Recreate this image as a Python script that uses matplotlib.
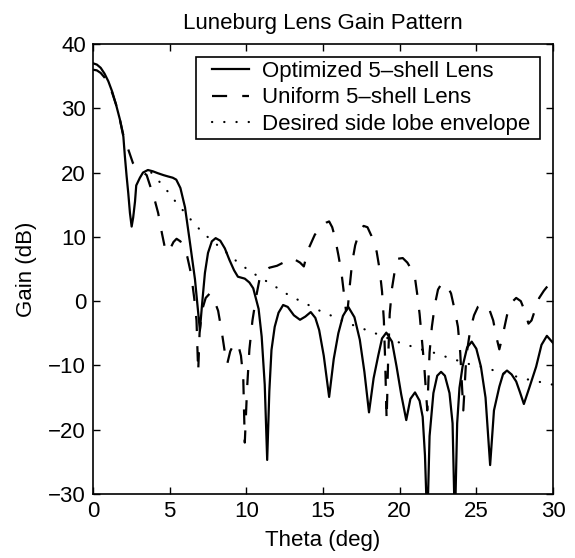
import matplotlib
matplotlib.use("Agg")
import matplotlib.pyplot as plt
from matplotlib.legend_handler import HandlerLine2D

plt.rcParams['font.family'] = ['Liberation Sans', 'DejaVu Sans']

# Optimized 5-shell lens
opt_theta = [0.0, 0.25, 0.5, 0.75, 1.0, 1.25, 1.5, 1.75, 1.98, 2.08, 2.19, 2.3, 2.41, 2.52,
             2.62, 2.74, 2.82, 3.06, 3.26, 3.58, 3.9, 4.23, 4.6, 4.89, 5.2, 5.43, 5.7, 6.0,
             6.3, 6.65, 6.97, 7.15, 7.3, 7.5, 7.75, 8.0, 8.3, 8.6, 8.9, 9.2, 9.45, 9.9,
             10.2, 10.45, 10.8, 11.0, 11.2, 11.36, 11.5, 11.64, 11.85, 12.1, 12.4, 12.7,
             13.1, 13.5, 13.85, 14.2, 14.5, 14.75, 15.05, 15.4, 15.7, 16.0, 16.3, 16.65,
             17.05, 17.4, 17.7, 18.0, 18.3, 18.6, 18.85, 19.13, 19.5, 19.8, 20.1, 20.43,
             20.7, 21.0, 21.3, 21.5, 21.65, 21.8, 21.95, 22.2, 22.45, 22.7, 22.95, 23.25,
             23.45, 23.6, 23.75, 23.9, 24.1, 24.4, 24.7, 25.0, 25.3, 25.6, 25.9, 26.15,
             26.5, 26.75, 27.0, 27.3, 27.6, 27.85, 28.1, 28.45, 28.9, 29.25, 29.6, 30.0]
opt_gain = [37.0, 36.8, 36.3, 35.4, 34.2, 32.6, 30.6, 28.3, 25.6, 22.5, 19.5, 16.8, 13.7, 11.6,
            13.0, 15.5, 18.0, 19.2, 20.0, 20.4, 20.2, 19.9, 19.6, 19.4, 19.2, 18.9, 17.6, 14.6,
            9.5, 3.4, -4.5, 0.5, 4.4, 7.5, 9.3, 9.8, 9.4, 8.2, 6.4, 4.8, 3.8, 3.5,
            2.9, 2.0, -1.2, -5.5, -13.0, -24.7, -14.0, -7.6, -4.0, -1.8, -0.6, -0.9,
            -2.2, -2.9, -2.4, -1.7, -2.6, -4.5, -8.5, -14.9, -9.0, -5.0, -2.3, -0.9,
            -2.5, -6.0, -11.0, -17.3, -12.0, -8.5, -5.8, -4.9, -6.3, -10.2, -14.5, -18.5,
            -15.2, -14.2, -15.5, -18.0, -24.0, -35.0, -21.0, -14.3, -11.6, -11.0, -11.6, -14.3,
            -19.0, -35.0, -19.0, -13.5, -10.2, -7.2, -6.3, -7.4, -10.2, -15.0, -25.5, -17.0,
            -13.3, -11.3, -10.8, -11.4, -12.5, -14.2, -16.0, -13.5, -10.2, -6.8, -5.4, -6.5]

# Uniform 5-shell lens
uni_theta = [0.0, 0.25, 0.5, 0.75, 1.0, 1.25, 1.5, 1.75, 2.0, 2.3, 2.6, 2.9, 3.2, 3.5,
             3.8, 4.05, 4.25, 4.5, 4.75, 5.0, 5.25, 5.45, 5.7, 5.95, 6.15, 6.4, 6.6, 6.75,
             6.86, 6.95, 7.1, 7.35, 7.62, 7.9, 8.16, 8.4, 8.6, 8.75, 8.95, 9.2, 9.45, 9.65,
             9.8, 9.9, 10.05, 10.2, 10.4, 10.65, 10.85, 11.2, 11.5, 12.0, 12.5, 13.0, 13.5,
             13.75, 14.03, 14.46, 14.85, 15.2, 15.4, 15.6, 15.77, 16.0, 16.2, 16.35, 16.5,
             16.62, 16.75, 16.9, 17.1, 17.4, 17.65, 17.9, 18.15, 18.5, 18.7, 18.85, 18.97,
             19.05, 19.15, 19.25, 19.35, 19.5, 19.7, 19.9, 20.2, 20.5, 20.8, 21.0, 21.15,
             21.3, 21.45, 21.6, 21.8, 21.95, 22.1, 22.3, 22.5, 22.75, 23.05, 23.35, 23.6,
             23.8, 23.95, 24.15, 24.35, 24.6, 24.85, 25.1, 25.5, 25.85, 26.1, 26.3, 26.5,
             26.75, 27.0, 27.3, 27.6, 27.9, 28.15, 28.4, 28.6, 28.85, 29.1, 29.4, 29.7, 30.0]
uni_gain = [36.0, 35.9, 35.5, 34.8, 33.8, 32.4, 30.6, 28.3, 25.6, 23.6, 21.5, 20.6, 20.2, 19.6,
            17.4, 15.5, 13.7, 10.5, 7.6, 8.0, 9.2, 9.7, 9.3, 8.2, 6.9, 4.2, 0.5, -3.0,
            -11.0, -5.0, -1.5, 0.5, 1.2, 0.2, -1.5, -4.8, -8.0, -9.8, -7.8, -6.6, -6.6, -8.5,
            -12.0, -22.0, -13.5, -7.5, -3.0, 0.8, 3.3, 4.6, 5.2, 5.5, 6.1, 6.7, 6.0,
            5.4, 8.0, 10.3, 11.6, 12.2, 12.4, 11.5, 10.0, 7.2, 4.5, 1.5, -1.5,
            -1.0, 2.5, 6.0, 8.7, 11.0, 11.7, 11.5, 10.2, 7.7, 4.8, 1.5, -3.0,
            -9.0, -18.5, -9.0, -2.0, 2.0, 5.0, 6.6, 6.7, 6.0, 4.8, 3.6, 1.0,
            -2.0, -6.0, -10.0, -17.0, -8.0, -4.0, -0.5, 1.8, 2.8, 2.6, 1.2, -1.5,
            -4.0, -8.0, -17.0, -8.5, -4.5, -2.2, -0.9, -0.5, -1.3, -3.0, -5.5, -7.5,
            -5.0, -2.2, -0.2, 0.5, 0.0, -1.5, -3.5, -3.0, -1.2, 0.5, 1.6, 2.5, 3.3]

# Desired side lobe envelope
env_theta = [3.8, 4.47, 5.0, 5.5, 6.06, 6.58, 7.14, 7.8, 8.5, 9.1, 9.75, 10.4, 11.1, 11.8,
             12.5, 13.2, 13.9, 14.6, 15.3, 16.05, 16.7, 17.5, 18.3, 19.05, 19.8, 20.6, 21.4,
             22.2, 22.8, 23.5, 24.2, 25.1, 25.9, 26.6, 27.4, 28.2, 29.0, 29.8, 30.0]
env_gain = [20.0, 18.2, 16.7, 15.1, 13.6, 12.1, 10.7, 9.3, 8.0, 6.7, 5.5, 4.4, 3.4, 2.4,
            1.3, 0.4, -0.4, -1.3, -2.0, -2.8, -3.5, -4.2, -4.9, -5.6, -6.3, -6.9, -7.5,
            -8.0, -8.5, -9.0, -9.6, -10.1, -10.6, -11.1, -11.6, -12.1, -12.5, -12.9, -13.0]

fig = plt.figure(figsize=(5.75, 5.58), dpi=100)
ax = fig.add_axes([93 / 575, 1 - 494 / 558, 460 / 575, 450 / 558])

ax.plot(opt_theta, opt_gain, color='black', lw=1.6, label='Optimized 5–shell Lens')
ax.plot(uni_theta, uni_gain, color='black', lw=1.6, linestyle=(0, (6.8, 6.8)),
        label='Uniform 5–shell Lens')
ax.plot(env_theta, env_gain, color='black', lw=1.6, linestyle=(0, (0.1, 5.4)),
        dash_capstyle='round', label='Desired side lobe envelope')

ax.set_xlim(0, 30)
ax.set_ylim(-30, 40)
ax.set_xticks([0, 5, 10, 15, 20, 25, 30])
ax.set_yticks([-30, -20, -10, 0, 10, 20, 30, 40])
ax.tick_params(direction='in', top=True, right=True, length=5, width=1,
               labelsize=16, pad=5)
for s in ax.spines.values():
    s.set_linewidth(1.2)

ax.set_title('Luneburg Lens Gain Pattern', fontsize=16, pad=11)
ax.set_xlabel('Theta (deg)', fontsize=16, labelpad=6)
ax.set_ylabel('Gain (dB)', fontsize=16, labelpad=8)

leg = ax.legend(loc='upper left', bbox_to_anchor=(0.2239, 0.9711, 0.7478, 0.0),
                mode='expand', borderaxespad=0, fontsize=16, frameon=True,
                fancybox=False, edgecolor='black', framealpha=1,
                borderpad=0.18, labelspacing=0.24, handlelength=2.2,
                handletextpad=0.6,
                handler_map={matplotlib.lines.Line2D: HandlerLine2D(xpad=0.55)})
leg.get_frame().set_linewidth(1.2)

fig.savefig('out.png', dpi=100)
